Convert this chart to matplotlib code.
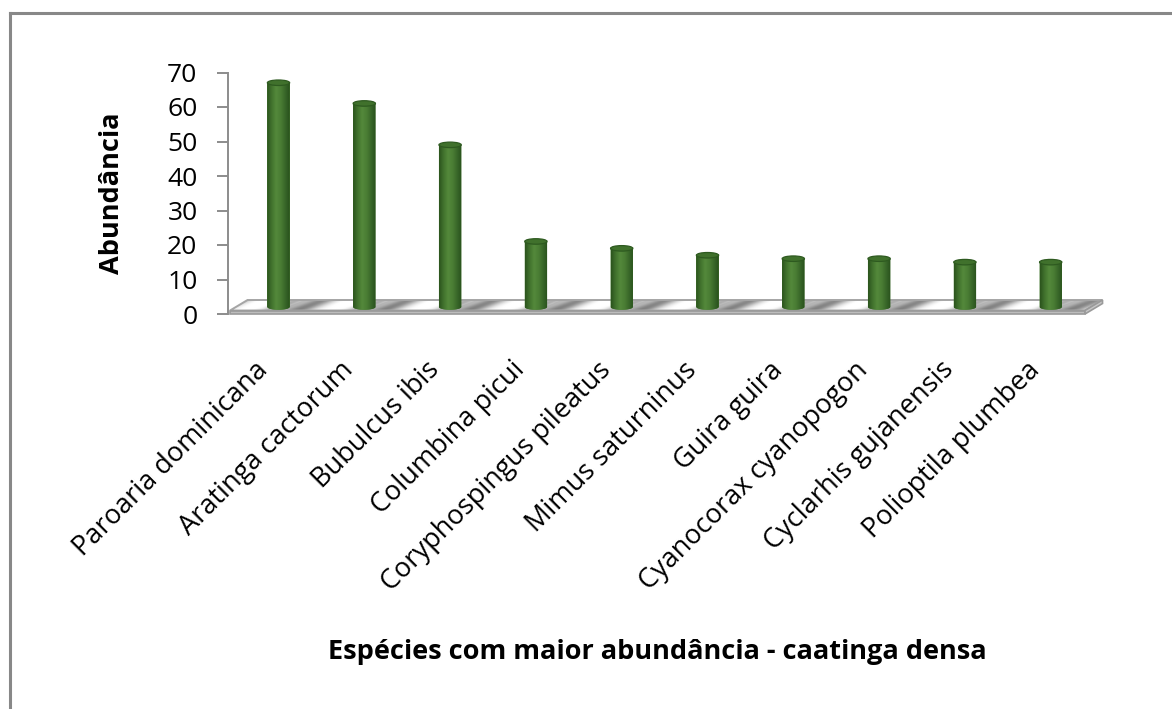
import numpy as np
import matplotlib
matplotlib.use("Agg")
import matplotlib.pyplot as plt
from matplotlib.patches import Polygon, Ellipse, PathPatch
from matplotlib.path import Path
from matplotlib.lines import Line2D
from matplotlib.colors import LinearSegmentedColormap
import matplotlib.transforms as mtransforms

plt.rcParams['font.family'] = ['Open Sans', 'DejaVu Sans']

# Species with highest abundance in dense caatinga
species = [
    "Paroaria dominicana",
    "Aratinga cactorum",
    "Bubulcus ibis",
    "Columbina picui",
    "Coryphospingus pileatus",
    "Mimus saturninus",
    "Guira guira",
    "Cyanocorax cyanopogon",
    "Cyclarhis gujanensis",
    "Polioptila plumbea",
]
abundance = [65, 59, 47, 19, 17, 15, 14, 14, 13, 13]
yticks = [0, 10, 20, 30, 40, 50, 60, 70]

W, H, DPI = 1172, 709, 100
fig = plt.figure(figsize=(W / DPI, H / DPI), dpi=DPI)
fig.patch.set_facecolor("white")

# axes box in pixels: value axis at x=228, zero at y=314, 70 at y=72.5
px_left, px_right, px_top, px_bot = 228, 1110, 72.5, 314
ax = fig.add_axes([px_left / W, 1 - px_bot / H,
                   (px_right - px_left) / W, (px_bot - px_top) / H])
ax.set_facecolor("none")

x_unit = 85.8                       # pixels per category
y_unit = (px_bot - px_top) / 70.0   # pixels per abundance unit
x0 = (px_left - 278.5) / x_unit
x1 = (px_right - 278.5) / x_unit

# 3-D floor depth (in data units)
depth_x = 17.5 / x_unit
depth_y = 14.0 / y_unit
slab = 3.5 / y_unit
base = depth_y / 2.0

n = len(species)
xpos = np.arange(n)

# ---- floor slab ----
fl, fr = -0.565, 9.40
floor_top = Polygon([(fl, slab), (fr, slab), (fr + depth_x, depth_y),
                     (fl + depth_x, depth_y)], closed=True,
                    facecolor="none", edgecolor="none", zorder=1)
ax.add_patch(floor_top)
gx = np.linspace(fl, fr + depth_x, 1200)
gy = np.linspace(slab, depth_y, 40)
GX, GY = np.meshgrid(gx, gy)
fy = (GY - slab) / (depth_y - slab)
rel = GX - fy * depth_x * 1.6 - np.floor(GX - fy * depth_x * 1.6)
# shadows thrown right of each cylinder, fading into white between them
shade = (1.0 - 0.50 * np.exp(-((rel - 0.22) / 0.17) ** 2)
         - 0.36 * np.exp(-((rel - 0.92) / 0.13) ** 2)
         - 0.36 * np.exp(-((rel + 0.08) / 0.13) ** 2))
shade = np.clip(shade + 0.05 * fy, 0, 1)
img = ax.imshow(shade, extent=[gx[0], gx[-1], slab, depth_y], origin="lower",
                cmap="gray", vmin=0, vmax=1, aspect="auto", zorder=1,
                interpolation="bilinear")
img.set_clip_path(floor_top)
ax.add_patch(Polygon([(fl, slab), (fr, slab), (fr + depth_x, depth_y),
                      (fl + depth_x, depth_y)], closed=True, facecolor="none",
                     edgecolor="#a5a5a5", lw=1.4, zorder=2, clip_on=False))
ax.add_patch(Polygon([(fl, 0), (fr, 0), (fr, slab), (fl, slab)], closed=True,
                     facecolor="#bdbdbd", edgecolor="#9a9a9a", lw=1.2, zorder=2,
                     clip_on=False))
ax.add_patch(Polygon([(fr, 0), (fr + depth_x, depth_y - slab),
                      (fr + depth_x, depth_y), (fr, slab)], closed=True,
                     facecolor="#c8c8c8", edgecolor="#9a9a9a", lw=1.2, zorder=2,
                     clip_on=False))

# ---- cylinders ----
bw = 0.26
cap_h = 5.5 / y_unit
cyl_cmap = LinearSegmentedColormap.from_list(
    "cyl", ["#2b531d", "#41722d", "#54893b", "#4a7d34", "#386629", "#28501b"])
bars = ax.bar(xpos, abundance, bottom=base, width=bw, color="#467832",
              edgecolor="none", zorder=3)
grad = np.linspace(0, 1, 200).reshape(1, -1)
for rect in bars:
    xl, yb = rect.get_x(), rect.get_y()
    w, h = rect.get_width(), rect.get_height()
    cx, yt = xl + w / 2, yb + h
    t = np.linspace(np.pi, 2 * np.pi, 40)
    arc = np.column_stack([cx + w / 2 * np.cos(t), yb + cap_h / 2 * np.sin(t)])
    verts = np.vstack([[xl, yt], arc, [xl + w, yt], [xl, yt]])
    body = PathPatch(Path(verts, closed=True), facecolor="#467832",
                     edgecolor="none", zorder=3, clip_on=False)
    ax.add_patch(body)
    im = ax.imshow(grad, extent=[xl, xl + w, yb - cap_h, yt], cmap=cyl_cmap,
                   aspect="auto", zorder=4, interpolation="bilinear")
    im.set_clip_path(body)
    ax.add_patch(Ellipse((cx, yt), w, cap_h, facecolor="#40712c",
                         edgecolor="#2e5a20", lw=0.9, zorder=5, clip_on=False))

ax.set_xlim(x0, x1)
ax.set_ylim(0, 70)

# ---- axes styling ----
for s in ("top", "right", "bottom"):
    ax.spines[s].set_visible(False)
ax.spines["left"].set_color("#8c8c8c")
ax.spines["left"].set_linewidth(1.4)
ax.set_yticks(yticks)
ax.set_yticklabels([str(v) for v in yticks], fontsize=19)
ax.tick_params(axis="y", length=8, width=1.4, color="#8c8c8c", pad=14,
               labelcolor="#000000")
ax.set_xticks([])

# category labels, rotated 45 degrees below the floor
off = mtransforms.ScaledTranslation(-5 / DPI, -42 / DPI, fig.dpi_scale_trans)
for xp, name in zip(xpos, species):
    ax.text(xp, 0, name, rotation=45, ha="right", va="top", fontsize=19.5,
            transform=ax.transData + off, rotation_mode="default")

fig.text(112 / W, 1 - 193 / H, "Abundância", rotation=90, ha="center",
         va="center", fontsize=19.5, fontweight="bold")
fig.text(657 / W, 1 - 652 / H, "Espécies com maior abundância - caatinga densa",
         ha="center", va="center", fontsize=19.5, fontweight="bold")

# chart frame (top and left edges visible)
fig.add_artist(Line2D([10 / W, 10 / W], [0, 1 - 13 / H], color="#888888",
                      lw=2.2, transform=fig.transFigure))
fig.add_artist(Line2D([10 / W, 1], [1 - 13 / H, 1 - 13 / H], color="#888888",
                      lw=2.2, transform=fig.transFigure))

fig.savefig("out.png", dpi=DPI)
